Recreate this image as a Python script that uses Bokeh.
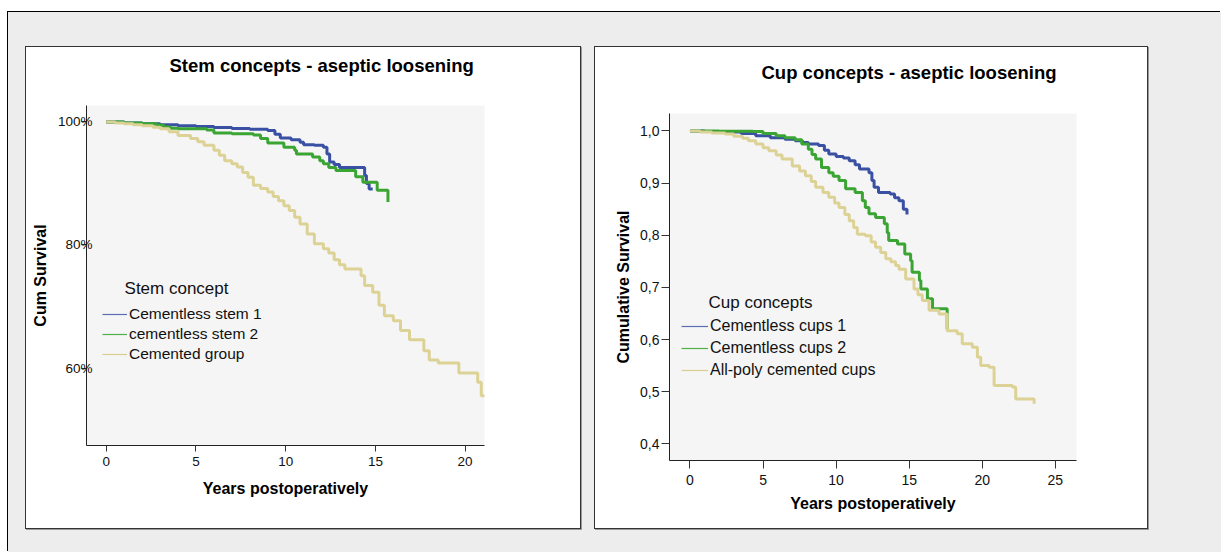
from bokeh.plotting import figure
from bokeh.models import Range1d, FixedTicker, Legend, LegendItem, Label, Spacer, CustomJSTickFormatter, Title
from bokeh.layouts import column, row
from bokeh.embed import file_html
from bokeh.resources import INLINE

FONT = "Liberation Sans"
NAN = float("nan")

# ---------------- data: stem concepts (years, cumulative survival %) ----------------
stem_names = ["Cementless stem 1", "cementless stem 2", "Cemented group"]
stem1_t = [0, 1.0, 2.0, 3.0, 4.0, 5.0, 6.0, 7.0, 8.0, 9.0, 9.4, 9.7, 10.3, 10.8, 11.0, 11.6, 12.1, 12.3, 12.45, 12.7, 13.0, 14.4, 14.5, 14.65, 14.85]
stem1_s = [100, 99.85, 99.7, 99.55, 99.4, 99.25, 99.1, 98.95, 98.8, 98.6, 98.0, 97.4, 97.1, 96.7, 96.3, 96.2, 95.9, 94.8, 93.5, 93.1, 92.6, 91.3, 90.0, 89.1, 89.1]
stem2_t = [0, 1.0, 2.0, 2.8, 3.2, 3.6, 4.0, 5.6, 6.0, 7.0, 8.2, 8.6, 9.0, 9.9, 10.5, 10.6, 11.5, 11.9, 12.1, 12.4, 12.8, 13.9, 14.3, 15.1, 15.7]
stem2_s = [100, 99.85, 99.7, 99.5, 99.2, 99.0, 98.9, 98.7, 98.2, 98.1, 97.9, 97.3, 96.6, 95.9, 95.4, 94.8, 94.3, 93.7, 93.2, 92.6, 92.1, 91.1, 90.2, 88.9, 87.0]
stem3_t = [0, 0.5, 1.0, 1.5, 2.0, 2.6, 3.0, 3.5, 4.0, 4.7, 5.1, 5.45, 6.0, 6.3, 6.6, 7.0, 7.3, 7.6, 7.9, 8.2, 8.6, 9.0, 9.3, 9.6, 9.9,
           10.2, 10.5, 10.8, 11.2, 11.6, 12.1, 12.4, 12.7, 13.0, 13.3, 14.2, 14.4, 14.85, 15.2, 15.5, 16.0, 16.4, 16.9, 17.7, 18.0,
           18.5, 19.65, 20.7, 20.9, 21.1]
stem3_s = [100, 99.85, 99.7, 99.55, 99.4, 99.15, 98.9, 98.4, 97.8, 97.3, 96.8, 96.2, 95.4, 94.6, 93.7, 93.2, 92.7, 91.8, 91.0, 89.7, 89.2, 88.6, 87.9, 87.2, 86.4,
           85.6, 84.5, 83.4, 81.8, 80.2, 79.4, 78.7, 77.6, 76.8, 76.1, 75.0, 73.4, 72.3, 70.2, 68.5, 67.7, 66.1, 64.6, 62.8, 61.3,
           60.8, 59.2, 57.7, 55.5, 55.5]
stem_xticks = [0, 5, 10, 15, 20]
stem_yticks = [60, 80, 100]

# ---------------- data: cup concepts (years, cumulative survival) ----------------
cup_names = ["Cementless cups 1", "Cementless cups 2", "All-poly cemented cups"]
cup1_t = [0, 1.0, 2.0, 3.5, 4.5, 5.5, 6.5, 7.2, 7.7, 8.1, 8.8, 9.2, 9.5, 10.0, 10.5, 10.9, 11.3, 11.6, 12.25, 12.45, 12.6, 12.9, 13.7, 14.0, 14.3, 14.6, 14.85]
cup1_s = [1.0, 0.999, 0.998, 0.995, 0.991, 0.987, 0.984, 0.981, 0.978, 0.975, 0.972, 0.963, 0.956, 0.951, 0.948, 0.943, 0.935, 0.927, 0.920, 0.905, 0.892, 0.882, 0.879, 0.872, 0.866, 0.850, 0.840]
cup2_t = [0, 2.0, 4.3, 5.0, 5.9, 6.5, 7.2, 7.65, 8.1, 8.35, 8.6, 9.0, 9.5, 9.8, 10.2, 10.65, 11.3, 11.8, 12.0, 12.25, 12.7, 13.3, 13.5, 13.6,
          14.2, 14.7, 15.1, 15.2, 15.7, 15.8, 16.25, 16.6, 17.6]
cup2_s = [1.0, 0.9995, 0.999, 0.995, 0.991, 0.987, 0.983, 0.975, 0.965, 0.955, 0.946, 0.930, 0.920, 0.913, 0.905, 0.889, 0.882, 0.866, 0.853, 0.841, 0.834, 0.822, 0.805, 0.790,
          0.783, 0.764, 0.751, 0.729, 0.713, 0.697, 0.678, 0.659, 0.620]
cup3_t = [0, 0.7, 1.5, 2.4, 3.0, 3.6, 4.0, 4.5, 5.0, 5.4, 5.9, 6.3, 7.0, 7.5, 7.9, 8.3, 8.6, 9.1, 9.5, 9.9, 10.2, 10.6, 10.9, 11.2, 11.45,
          12.0, 12.4, 12.7, 13.05, 13.4, 13.75, 14.07, 14.3, 14.76, 15.33, 15.6, 15.9, 16.36, 17.04, 17.6, 18.29, 18.63, 19.32, 19.67,
          19.9, 20.47, 20.81, 22.06, 22.29, 23.55]
cup3_s = [1.0, 0.998, 0.996, 0.994, 0.990, 0.986, 0.981, 0.975, 0.968, 0.962, 0.954, 0.946, 0.933, 0.923, 0.914, 0.903, 0.892, 0.882, 0.873, 0.862, 0.853, 0.840, 0.828, 0.815, 0.802,
          0.799, 0.787, 0.777, 0.767, 0.755, 0.749, 0.742, 0.735, 0.716, 0.697, 0.686, 0.675, 0.656, 0.649, 0.617, 0.611, 0.592, 0.585, 0.566,
          0.550, 0.547, 0.512, 0.509, 0.486, 0.477]
cup_xticks = [0, 5, 10, 15, 20, 25]
cup_yticks = [0.4, 0.5, 0.6, 0.7, 0.8, 0.9, 1.0]

COLORS = ["#3a51a3", "#3ba534", "#ddd295"]
ICON_COLORS = ["#5a6db5", "#4fb046", "#d8cd8e"]


def make_panel(title, title_offset, title_gap, names, series, xr, yr, borders, xticks, yticks, fmt_code,
               ylabel, tick_font, y_tick_out, y_standoff, x_tick_out, x_standoff,
               y_label_standoff, x_label_standoff, legend_loc,
               row_h, item_font, glyph_w, leg_title, leg_title_xy, leg_title_font, width):
    left, right, top, bottom = borders
    p = figure(width=width, height=481, x_range=Range1d(*xr), y_range=Range1d(*yr),
               output_backend="svg", toolbar_location=None,
               min_border_left=left, min_border_right=right,
               min_border_top=top, min_border_bottom=bottom,
               background_fill_color="#f5f5f5", border_fill_color="white",
               outline_line_color=None)
    p.grid.visible = False
    try:
        p.title = None
    except Exception:
        pass

    # white-on-white spacer panel between the frame and the chart title, then the title
    p.add_layout(Title(text=".", text_font_size="1px", text_color="white", standoff=title_gap), "above")
    p.add_layout(Title(text=title, align="left", offset=title_offset, standoff=0,
                       text_font=FONT, text_font_size="18.5px", text_font_style="bold",
                       text_color="#000"), "above")

    for (t, s), c in zip(series, COLORS):
        p.step(t, s, mode="after", line_color=c, line_width=3)

    # legend proxies (no visible data, thin icons)
    items = []
    for name, c in zip(names, ICON_COLORS):
        proxy = p.line(x=[NAN], y=[NAN], line_color=c, line_width=1.2)
        items.append(LegendItem(label=name, renderers=[proxy]))
    leg = Legend(items=items, location=legend_loc, padding=0, margin=0, spacing=0,
                 background_fill_alpha=0, border_line_alpha=0,
                 label_text_font=FONT, label_text_font_size=item_font, label_text_color="#111",
                 label_height=row_h, glyph_height=row_h, glyph_width=glyph_w, label_standoff=2)
    p.add_layout(leg, "center")

    p.add_layout(Label(x=leg_title_xy[0], y=leg_title_xy[1], text=leg_title,
                       text_font=FONT, text_font_size=leg_title_font, text_color="#111",
                       text_baseline="middle", text_align="left"))

    xa = p.below[0]
    xa.ticker = FixedTicker(ticks=xticks)
    xa.axis_label = "Years postoperatively"
    xa.major_tick_out = x_tick_out
    xa.major_tick_in = 0
    xa.minor_tick_out = 0
    xa.minor_tick_in = 0
    xa.major_label_standoff = x_standoff
    xa.axis_label_standoff = x_label_standoff

    ya = p.left[0]
    ya.ticker = FixedTicker(ticks=yticks)
    ya.formatter = CustomJSTickFormatter(code=fmt_code)
    ya.axis_label = ylabel
    ya.major_tick_out = y_tick_out
    ya.major_tick_in = 0
    ya.minor_tick_out = 0
    ya.minor_tick_in = 0
    ya.major_label_standoff = y_standoff
    ya.axis_label_standoff = y_label_standoff

    for ax in (xa, ya):
        ax.axis_line_color = "#222"
        ax.major_tick_line_color = "#333"
        ax.major_label_text_font = FONT
        ax.major_label_text_font_size = tick_font
        ax.major_label_text_color = "#111"
        ax.axis_label_text_font = FONT
        ax.axis_label_text_font_size = "16px"
        ax.axis_label_text_font_style = "bold"
        ax.axis_label_text_color = "#000"
    return p


p1 = make_panel(
    "Stem concepts - aseptic loosening", 83, 27, stem_names,
    [(stem1_t, stem1_s), (stem2_t, stem2_s), (stem3_t, stem3_s)],
    (-1.10, 21.08), (47.4, 102.68), (60, 96, 58, 83), stem_xticks, stem_yticks,
    "return tick + '%';", "Cum Survival", "13.5px",
    5, -11, 6, 5, 6, 11, (16, 81),
    20, "15.5px", 25, "Stem concept", (1.02, 72.9), "17px", 554)

p2 = make_panel(
    "Cup concepts - aseptic loosening", 92, 28, cup_names,
    [(cup1_t, cup1_s), (cup2_t, cup2_s), (cup3_t, cup3_s)],
    (-1.40, 26.45), (0.368, 1.0335), (74, 71, 66, 68), cup_xticks, cup_yticks,
    "return tick.toFixed(1).replace('.', ',');", "Cumulative Survival", "14px",
    8, 2, 8, 6, 5, 7, (12, 79),
    22, "16px", 27, "Cup concepts", (1.27, 0.671), "17px", 552)

PANEL = {"box-shadow": "0 0 0 1px #333, 1px 1px 0 1px #9a9a9a", "background-color": "white"}
box1 = column(p1, width=554, height=481, styles=PANEL)
box2 = column(p2, width=552, height=481, styles=PANEL)

inner = column(
    Spacer(height=35),
    row(Spacer(width=18), box1, Spacer(width=15), box2),
    width=1213, height=540,
    styles={"background-color": "#ededed", "box-shadow": "-1px -1px 0 0 #000"})
layout = column(Spacer(height=12), row(Spacer(width=8), inner), width=1221, height=552)

open("out.html", "w").write(file_html(layout, INLINE))
